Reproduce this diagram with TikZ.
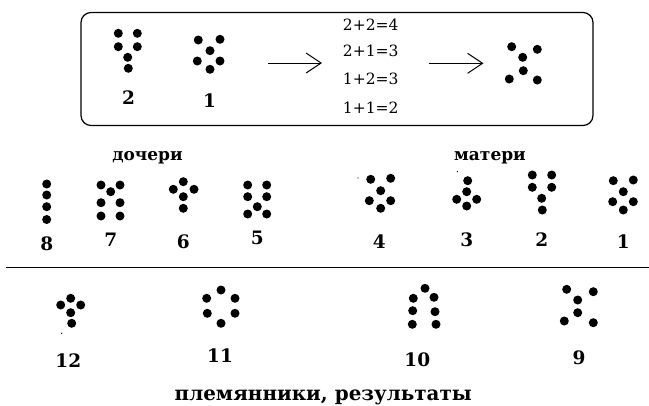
\documentclass[tikz,border=0pt]{standalone}
\usepackage{fontspec}
\setmainfont{DejaVu Serif}
\usetikzlibrary{arrows.meta}
\begin{document}
\begin{tikzpicture}[x=1pt,y=-1pt,
  lbl/.style={font=\fontsize{18.5}{18.5}\selectfont\bfseries, inner sep=0},
  eq/.style={font=\fontsize{15.5}{15.5}\selectfont, inner sep=0},
  ttl/.style={font=\fontsize{17}{17}\selectfont\bfseries, inner sep=0, anchor=base},
  big/.style={font=\fontsize{19.9}{19.9}\selectfont\bfseries, inner sep=0, anchor=base},
  arr/.style={-{Straight Barb[length=15pt,width=20pt,line width=1pt]}, line width=0.9pt},
  frame/.style={line width=1.2pt, rounded corners=10pt},
  rule/.style={line width=1.4pt}]
\useasboundingbox (0,0) rectangle (649,405);
\def\dotr{4.5pt}
\newcommand\putdots[1]{\foreach \p in {#1} {\fill \p circle[radius=\dotr];}}
\newcommand\speck[1]{\fill #1 circle[radius=0.7pt];}

% top box
\draw[frame] (81,12.5) rectangle (593,125.5);
\putdots{(118.3,33.3),(137.3,33.3),(118.3,46.7),(137.3,46.7),(127.7,57.3),(128.3,68.3)}
\node[lbl] (b2) at (128.5,98) {2};
\putdots{(198.3,40),(220,39.3),(210,50.7),(197.3,61),(220,61),(210,69.3)}
\node[lbl] (b1) at (209.5,101) {1};
\coordinate (a1s) at (268,63);
\coordinate (a1e) at (322,63);
\draw[arr] (a1s) -- (a1e);
\node[eq] (e1) at (370.7,24.3) {2+2=4};
\node[eq] (e2) at (370.7,51) {2+1=3};
\node[eq] (e3) at (370.7,79) {1+2=3};
\node[eq] (e4) at (370.7,107.3) {1+1=2};
\coordinate (a2s) at (429,63.3);
\coordinate (a2e) at (483.5,63.3);
\draw[arr] (a2s) -- (a2e);
\putdots{(511.7,46.7),(537.3,49.3),(522.7,57.3),(523.3,70.7),(509.3,79),(537.3,80)}

% titles
\node[ttl] (tdo) at (147.5,160.7) {дочери};
\node[ttl] (tma) at (490,160.7) {матери};

% row 2
\putdots{(46.7,184),(46.7,195),(46.7,206.7),(46.7,219.5)}
\node[lbl] (l8) at (46.7,243.5) {8};
\putdots{(101,185),(120,185),(110.7,191.7),(101,202.7),(120,202.7),(101,216),(120,216)}
\node[lbl] (l7) at (110.7,239.3) {7};
\putdots{(183.3,181.7),(173.3,189.3),(194,189.3),(183.3,196.7),(183.3,208.3)}
\node[lbl] (l6) at (183.3,241.7) {6};
\putdots{(247.7,185),(266.7,185),(247.7,196.7),(266.7,196.7),(257.3,206.7),(247.7,214),(266.7,214)}
\node[lbl] (l5) at (257.3,238.3) {5};
\speck{(358,178)}
\putdots{(370.7,179.3),(390.7,178.3),(380.7,190.7),(369.3,200.7),(390.7,200.7),(380.7,208.3)}
\node[lbl] (l4) at (379.3,241.7) {4};
\speck{(457.3,171.7)}
\putdots{(467.7,180.7),(466.7,191.7),(456.7,199.3),(476.7,199.3),(466.7,206)}
\node[lbl] (l3) at (466.7,239.3) {3};
\putdots{(532.3,175),(551.7,175),(532.3,187.3),(551.7,187.3),(541.7,198.3),(542.3,210)}
\node[lbl] (l2) at (541.7,240) {2};
\putdots{(613.3,180.7),(633.3,180),(623.3,191.7),(612.7,201.7),(633.3,201.7),(623.3,210)}
\node[lbl] (l1) at (623.3,241.7) {1};

% separator
\coordinate (rl) at (6,267.7);
\coordinate (rr) at (649,267.7);
\draw[rule] (rl) -- (rr);

% row 3
\putdots{(70.7,298.3),(60.7,305),(80.7,305),(70.7,312.7),(71.7,323.3)}
\speck{(61.7,333.3)}
\node[lbl] (l12) at (68.3,360.7) {12};
\putdots{(221,290),(206.7,298.3),(235,298.3),(207.3,313.3),(235,313.3),(221,323.3)}
\node[lbl] (l11) at (220,356) {11};
\putdots{(425,288.3),(413.3,298.3),(434,297.3),(412.7,310.7),(435,311.7),(412.3,324.3),(436,324.3)}
\node[lbl] (l10) at (417.3,359.3) {10};
\putdots{(566.7,289.3),(593.3,291.7),(577.7,300),(577.7,312.7),(564.3,321),(593.3,322.7)}
\node[lbl] (l9) at (579,357.3) {9};

\node[big] (tpl) at (323.3,400) {племянники, результаты};
\end{tikzpicture}
\end{document}
